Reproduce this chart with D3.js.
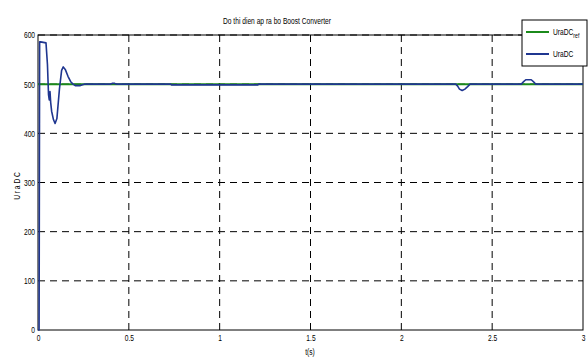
<!DOCTYPE html>
<html>
<head>
<meta charset="utf-8">
<script src="https://cdn.jsdelivr.net/npm/d3@7"></script>
<style>
  body { margin: 0; background: #fff; }
  svg { display: block; font-family: "Liberation Sans", Arial, sans-serif; }
</style>
</head>
<body>
<div id="chart"></div>
<script>
// time points (s) and measured output voltage UraDC
var timeVals = [0, 0.006, 0.009, 0.014, 0.044, 0.052, 0.058, 0.062, 0.066, 0.070, 0.075, 0.085, 0.094, 0.104, 0.118, 0.130, 0.139, 0.150, 0.165, 0.180, 0.193, 0.205, 0.215, 0.230, 0.245, 0.255,
    0.40, 0.41, 0.42, 0.43, 0.73, 0.735, 1.21, 1.215,
    2.300, 2.310, 2.320, 2.335, 2.350, 2.365, 2.378, 2.385,
    2.660, 2.670, 2.685, 2.715, 2.730, 2.740, 3.0];
var uraDC = [0, 0, 586, 586, 584, 540, 478, 468, 485, 462, 445, 428, 420, 430, 490, 528, 535, 530, 516, 505, 500, 497, 497, 497, 499, 500,
    500, 502, 502, 500, 500, 498.5, 498.5, 500,
    500, 496, 490, 487, 490, 495, 500, 500,
    500, 504, 509, 509, 504, 500, 500];
// reference voltage UraDC_ref
var refTime = [0, 3];
var uraRef = [500, 500];

var xTicks = [0, 0.5, 1, 1.5, 2, 2.5, 3];
var yTicks = [0, 100, 200, 300, 400, 500, 600];

var width = 588,
    height = 358,
    plot_left = 38,
    plot_right = 583,
    plot_top = 35,
    plot_bottom = 330,
    squeeze = "scale(0.74,1)", // narrow font look
    blue = "#1f3690",
    green = "#1b8a1b";

var svg = d3.select("#chart").append("svg")
    .attr("width", width)
    .attr("height", height);

var x = d3.scaleLinear().domain([0, 3]).range([plot_left, plot_right]);
var y = d3.scaleLinear().domain([0, 600]).range([plot_bottom, plot_top]);

// grid lines
var grid = svg.append("g").attr("id", "grid");
grid.selectAll("line.gx")
    .data(xTicks.filter(d => d > 0 && d < 3))
    .enter().append("line")
        .attr("x1", d => x(d)).attr("x2", d => x(d))
        .attr("y1", plot_top).attr("y2", plot_bottom)
        .attr("stroke", "#000")
        .attr("stroke-width", 1)
        .attr("stroke-dasharray", "7,5");
grid.selectAll("line.gy")
    .data(yTicks.filter(d => d > 0))
    .enter().append("line")
        .attr("x1", plot_left).attr("x2", plot_right)
        .attr("y1", d => y(d)).attr("y2", d => y(d))
        .attr("stroke", "#000")
        .attr("stroke-width", 1)
        .attr("stroke-dasharray", "7,5");

// box
svg.append("rect")
    .attr("x", plot_left).attr("y", plot_top)
    .attr("width", plot_right - plot_left)
    .attr("height", plot_bottom - plot_top)
    .attr("fill", "none")
    .attr("stroke", "#000")
    .attr("stroke-width", 1);

// axes
var xAxis = d3.axisBottom(x).tickValues(xTicks).tickSize(0).tickPadding(5)
    .tickFormat(d3.format("~g"));
svg.append("g")
    .attr("transform", "translate(0," + plot_bottom + ")")
    .call(xAxis)
    .call(g => g.select(".domain").remove())
    .selectAll("text").attr("font-size", 9).attr("fill", "#000")
    .attr("font-family", "Liberation Sans, Arial, sans-serif")
    .attr("transform", squeeze);
var yAxis = d3.axisLeft(y).tickValues(yTicks).tickSize(0).tickPadding(4);
svg.append("g")
    .attr("transform", "translate(" + plot_left + ",0)")
    .call(yAxis)
    .call(g => g.select(".domain").remove())
    .selectAll("text").attr("font-size", 9).attr("fill", "#000")
    .attr("font-family", "Liberation Sans, Arial, sans-serif")
    .attr("transform", squeeze);

// lines
var line = d3.line()
    .x(d => x(d[0]))
    .y(d => y(d[1]));
svg.append("path")
    .attr("d", line(d3.zip(refTime, uraRef)))
    .attr("fill", "none")
    .attr("stroke", green)
    .attr("stroke-width", 2);
svg.append("path")
    .attr("d", line(d3.zip(timeVals, uraDC)))
    .attr("fill", "none")
    .attr("stroke", blue)
    .attr("stroke-width", 1.6)
    .attr("stroke-linejoin", "round");

// labels
var addText = function(px, py, rot, str) {
    return svg.append("g")
        .attr("transform", "translate(" + px + "," + py + ") rotate(" + rot + ")")
        .append("text")
        .attr("transform", squeeze)
        .attr("text-anchor", "middle")
        .attr("font-size", 9)
        .text(str);
};
addText(277, 24, 0, "Do thi dien ap ra bo Boost Converter");
addText(310, 355, 0, "t(s)");
addText(20, 186, -90, "U r a D C");

// legend
var legend = svg.append("g").attr("id", "legend");
legend.append("rect")
    .attr("x", 522).attr("y", 20)
    .attr("width", 65).attr("height", 46)
    .attr("fill", "#fff")
    .attr("stroke", "#000")
    .attr("stroke-width", 1);
legend.append("line")
    .attr("x1", 526).attr("x2", 549).attr("y1", 32).attr("y2", 32)
    .attr("stroke", green).attr("stroke-width", 2);
legend.append("line")
    .attr("x1", 526).attr("x2", 549).attr("y1", 54).attr("y2", 54)
    .attr("stroke", blue).attr("stroke-width", 2);
var t1 = legend.append("g").attr("transform", "translate(553,35)")
    .append("text")
    .attr("transform", squeeze)
    .attr("font-size", 9);
t1.append("tspan").text("UraDC");
t1.append("tspan").attr("dy", 3).attr("font-size", 7).text("ref");
legend.append("g").attr("transform", "translate(553,57)")
    .append("text")
    .attr("transform", squeeze)
    .attr("font-size", 9)
    .text("UraDC");
</script>
</body>
</html>
